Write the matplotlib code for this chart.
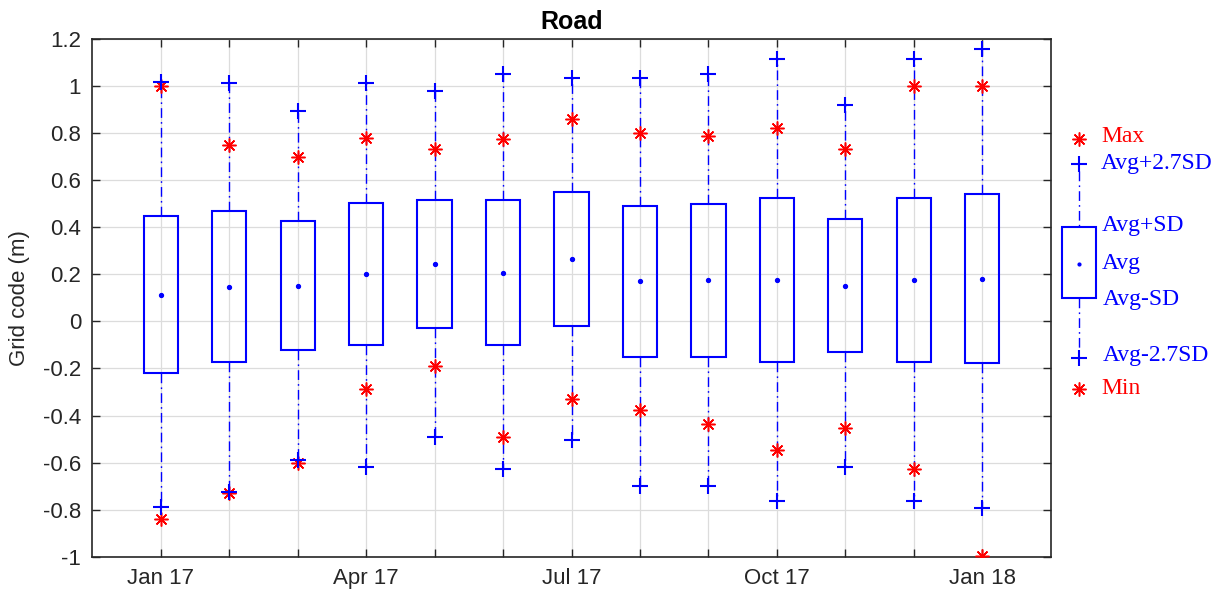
import matplotlib
matplotlib.use("Agg")
import matplotlib.pyplot as plt
from matplotlib.patches import Rectangle

months = ["Jan 17", "Feb 17", "Mar 17", "Apr 17", "May 17", "Jun 17", "Jul 17",
          "Aug 17", "Sep 17", "Oct 17", "Nov 17", "Dec 17", "Jan 18"]
tick_labels = ["Jan 17", "", "", "Apr 17", "", "", "Jul 17", "", "", "Oct 17", "", "", "Jan 18"]

avg = [0.114, 0.146, 0.152, 0.202, 0.244, 0.207, 0.266, 0.170, 0.174, 0.177, 0.151, 0.177, 0.182]
avg_plus_sd = [0.447, 0.467, 0.427, 0.501, 0.515, 0.515, 0.549, 0.489, 0.497, 0.525, 0.433, 0.525, 0.542]
avg_minus_sd = [-0.220, -0.173, -0.122, -0.099, -0.028, -0.102, -0.018, -0.152, -0.152, -0.171, -0.132, -0.171, -0.177]
avg_plus_27sd = [1.019, 1.014, 0.892, 1.014, 0.979, 1.050, 1.034, 1.033, 1.050, 1.117, 0.918, 1.117, 1.156]
avg_minus_27sd = [-0.790, -0.723, -0.589, -0.617, -0.491, -0.628, -0.506, -0.698, -0.698, -0.763, -0.617, -0.763, -0.794]
max_vals = [1.000, 0.748, 0.700, 0.780, 0.734, 0.773, 0.858, 0.802, 0.787, 0.823, 0.734, 1.000, 1.000]
min_vals = [-0.841, -0.730, -0.603, -0.288, -0.191, -0.491, -0.329, -0.376, -0.438, -0.546, -0.451, -0.628, -0.997]

W, H = 1230, 599
fig = plt.figure(figsize=(W / 100, H / 100), dpi=100)
ax = fig.add_axes([92.3 / W, 1 - 556.7 / H, (1050.7 - 92.3) / W, (556.7 - 39) / H])

BLUE = (0, 0, 1)
RED = (1, 0, 0)
AXC = "#262626"
STAR = (8, 2, 0)
dashdot = (0, (7, 3, 1.2, 3))
bw = 0.5
xs = list(range(len(months)))

for i in xs:
    ax.plot([i, i], [avg_plus_sd[i], avg_plus_27sd[i]], color=BLUE, lw=1.0, ls=dashdot, zorder=3)
    ax.plot([i, i], [avg_minus_sd[i], avg_minus_27sd[i]], color=BLUE, lw=1.0, ls=dashdot, zorder=3)
    ax.add_patch(Rectangle((i - bw / 2, avg_minus_sd[i]), bw, avg_plus_sd[i] - avg_minus_sd[i],
                           fill=False, edgecolor=BLUE, lw=1.5, zorder=4))
ax.plot(xs, avg, ls="none", marker="o", ms=2.8, color=BLUE, zorder=5)
ax.plot(xs, max_vals, ls="none", marker=STAR, ms=10, mew=1.1, color=RED, zorder=5)
ax.plot(xs, min_vals, ls="none", marker=STAR, ms=10, mew=1.1, color=RED, zorder=5)
ax.plot(xs, avg_plus_27sd, ls="none", marker="+", ms=12, mew=1.5, color=BLUE, zorder=6)
ax.plot(xs, avg_minus_27sd, ls="none", marker="+", ms=12, mew=1.5, color=BLUE, zorder=6)

ax.set_xlim(-1, 13)
ax.set_ylim(-1, 1.2)
ax.set_xticks(xs)
ax.set_xticklabels(tick_labels)
yt = [-1, -0.8, -0.6, -0.4, -0.2, 0, 0.2, 0.4, 0.6, 0.8, 1, 1.2]
ax.set_yticks(yt)
ax.set_yticklabels(["-1", "-0.8", "-0.6", "-0.4", "-0.2", "0", "0.2", "0.4", "0.6", "0.8", "1", "1.2"])
ax.tick_params(direction="in", top=True, right=True, length=6, width=1, colors=AXC,
               labelsize=16, labelcolor=AXC, pad=8)
for lab in ax.get_xticklabels() + ax.get_yticklabels():
    lab.set_family("Liberation Sans")
for s in ax.spines.values():
    s.set_color(AXC)
    s.set_linewidth(1.2)
ax.grid(True, color="#dcdcdc", lw=0.9, zorder=0)
ax.set_axisbelow(True)
ax.set_ylabel("Grid code (m)", fontsize=16, family="Liberation Sans", color=AXC, labelpad=9)
ax.set_title("Road", fontsize=18, fontweight="bold", family="Liberation Sans", color="black", pad=7)

# custom legend drawn to the right of the axes
lg = fig.add_axes([1052 / W, 0, (W - 1052) / W, 1])
lg.set_xlim(1052, W)
lg.set_ylim(H, 0)
lg.axis("off")
mx = 1079
lg.plot([mx], [139], ls="none", marker=STAR, ms=10, mew=1.1, color=RED)
lg.plot([mx], [164], ls="none", marker="+", ms=12, mew=1.5, color=BLUE)
lg.plot([mx, mx], [171, 227], color=BLUE, lw=1.0, ls=dashdot)
lg.add_patch(Rectangle((1061.7, 227.3), 34, 70.4, fill=False, edgecolor=BLUE, lw=1.5))
lg.plot([mx], [263.5], ls="none", marker="o", ms=2, color=BLUE)
lg.plot([mx, mx], [298, 350], color=BLUE, lw=1.0, ls=dashdot)
lg.plot([mx], [358], ls="none", marker="+", ms=12, mew=1.5, color=BLUE)
lg.plot([mx], [389], ls="none", marker=STAR, ms=10, mew=1.1, color=RED)
tk = dict(fontsize=17, family="Liberation Serif", va="center", ha="left")
lg.text(1101, 136, "Max", color=RED, **tk)
lg.text(1101, 163, "Avg+2.7SD", color=BLUE, **tk)
lg.text(1102, 225, "Avg+SD", color=BLUE, **tk)
lg.text(1102, 263, "Avg", color=BLUE, **tk)
lg.text(1103, 299, "Avg-SD", color=BLUE, **tk)
lg.text(1103, 356, "Avg-2.7SD", color=BLUE, **tk)
lg.text(1101, 388, "Min", color=RED, **tk)

fig.savefig("out.png", dpi=100)
